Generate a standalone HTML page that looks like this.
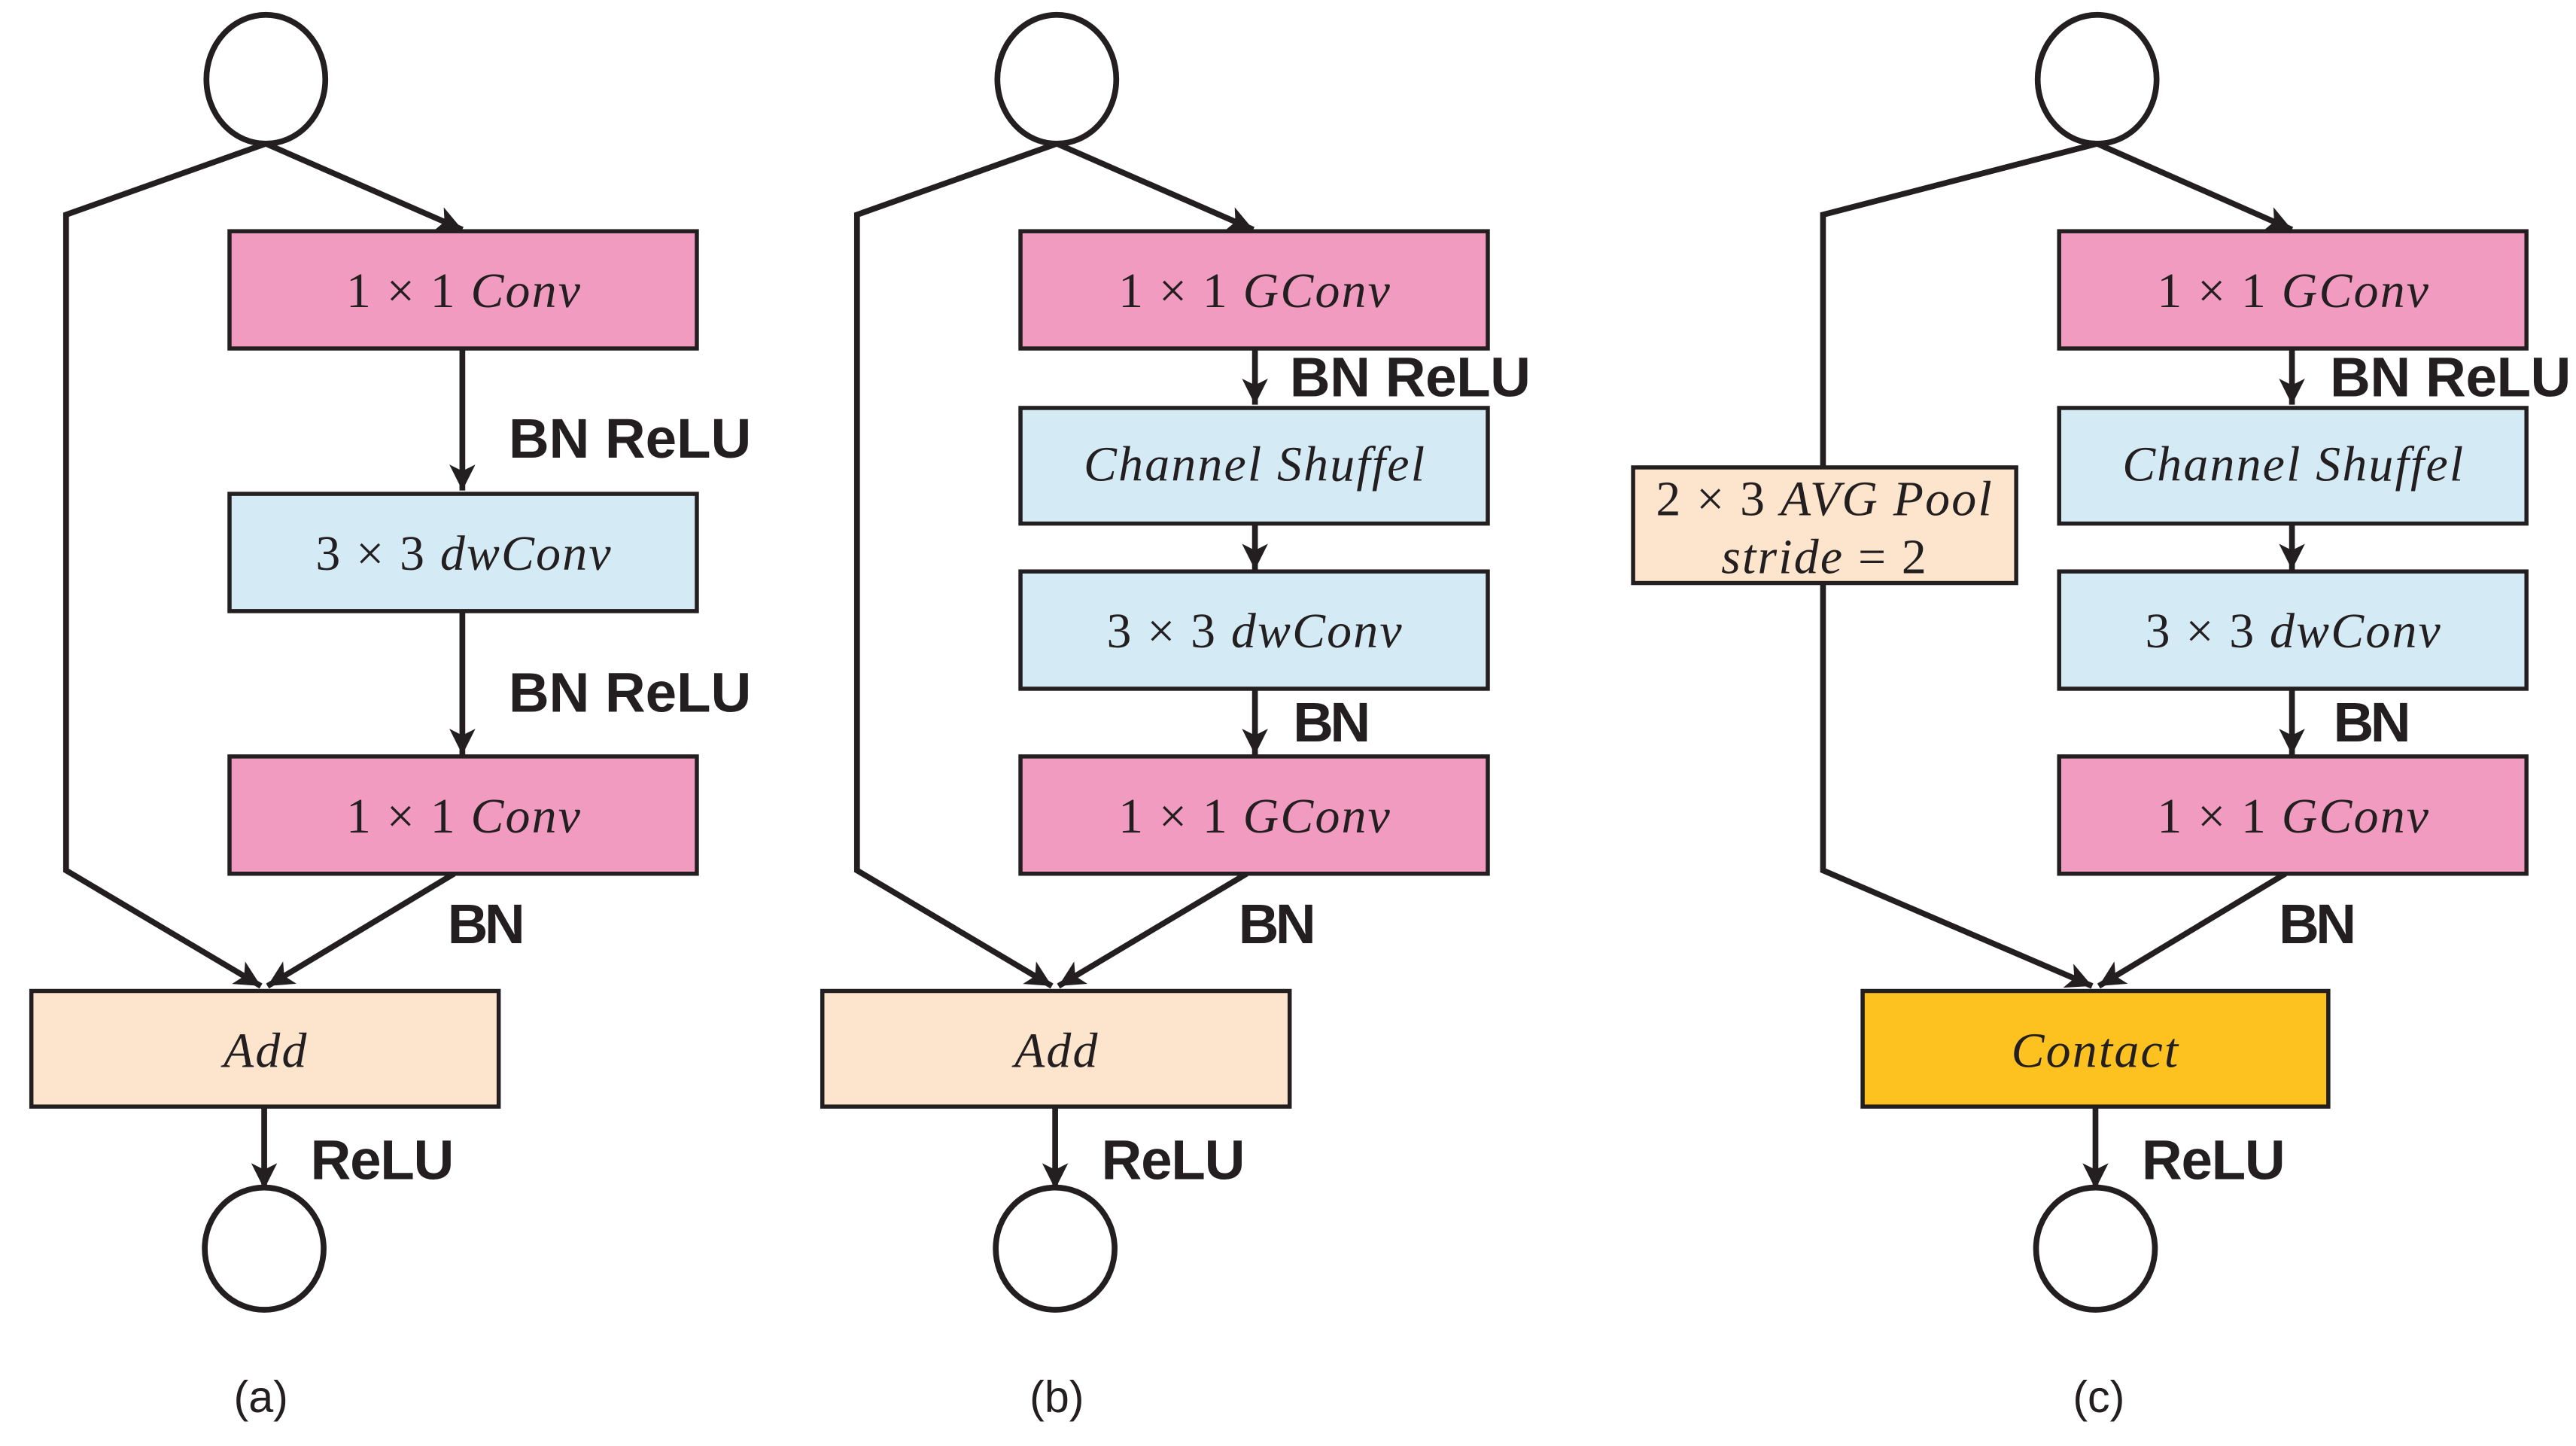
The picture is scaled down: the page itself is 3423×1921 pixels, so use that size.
<!DOCTYPE html>
<html><head><meta charset="utf-8"><style>
html,body{margin:0;padding:0;background:#fff}
svg{display:block}
.m{font-family:"Liberation Serif",serif;font-size:30px;fill:#231f20;letter-spacing:1px}
.i{font-style:italic}
.b{font-family:"Liberation Sans",sans-serif;font-weight:bold;font-size:34px;fill:#231f20}
.c{font-family:"Liberation Sans",sans-serif;font-size:27px;fill:#231f20}
</style></head><body>
<svg width="3423" height="1921" viewBox="0 0 1560 875.5" preserveAspectRatio="none" xmlns="http://www.w3.org/2000/svg">
<defs>
<marker id="a" viewBox="0 0 10 10" refX="10" refY="5" markerWidth="5.5" markerHeight="4.5" orient="auto" markerUnits="strokeWidth">
<path d="M0,0 L10,5 L0,10 L2.5,5 z" fill="#231f20"/></marker>
</defs>
<g stroke="#231f20" stroke-width="3.5" fill="none">
<ellipse cx="161" cy="48" rx="36" ry="39" fill="#fff"/>
<polyline points="161,87 40,130 40,527 158,597" marker-end="url(#a)"/>
<line x1="161" y1="87" x2="280" y2="139" marker-end="url(#a)"/>
<line x1="280" y1="211" x2="280" y2="297" marker-end="url(#a)"/>
<line x1="280" y1="370" x2="280" y2="457" marker-end="url(#a)"/>
<line x1="275" y1="529" x2="162" y2="597" marker-end="url(#a)"/>
<line x1="160" y1="670" x2="160" y2="720" marker-end="url(#a)"/>
<ellipse cx="160" cy="756" rx="36" ry="37" fill="#fff"/>
<ellipse cx="640" cy="48" rx="36" ry="39" fill="#fff"/>
<polyline points="640,87 519,130 519,527 637,597" marker-end="url(#a)"/>
<line x1="640" y1="87" x2="759" y2="139" marker-end="url(#a)"/>
<line x1="760" y1="211" x2="760" y2="245" marker-end="url(#a)"/>
<line x1="760" y1="317" x2="760" y2="345" marker-end="url(#a)"/>
<line x1="760" y1="417" x2="760" y2="457" marker-end="url(#a)"/>
<line x1="755" y1="529" x2="641" y2="597" marker-end="url(#a)"/>
<line x1="639" y1="670" x2="639" y2="720" marker-end="url(#a)"/>
<ellipse cx="639" cy="756" rx="36" ry="37" fill="#fff"/>
<ellipse cx="1270" cy="48" rx="36" ry="39" fill="#fff"/>
<polyline points="1270,87 1104,130 1104,283"/>
<polyline points="1104,353 1104,527 1267,597" marker-end="url(#a)"/>
<line x1="1270" y1="87" x2="1388" y2="139" marker-end="url(#a)"/>
<line x1="1388" y1="211" x2="1388" y2="245" marker-end="url(#a)"/>
<line x1="1388" y1="317" x2="1388" y2="345" marker-end="url(#a)"/>
<line x1="1388" y1="417" x2="1388" y2="457" marker-end="url(#a)"/>
<line x1="1384" y1="529" x2="1271" y2="597" marker-end="url(#a)"/>
<line x1="1269" y1="670" x2="1269" y2="720" marker-end="url(#a)"/>
<ellipse cx="1269" cy="756" rx="36" ry="37" fill="#fff"/>
</g>
<g stroke="#231f20" stroke-width="2.5">
<rect x="139" y="140" width="283" height="71" fill="#f19bc1"/>
<rect x="139" y="299" width="283" height="71" fill="#d4ebf5"/>
<rect x="139" y="458" width="283" height="71" fill="#f19bc1"/>
<rect x="19" y="600" width="283" height="70" fill="#fce5cc"/>
<rect x="618" y="140" width="283" height="71" fill="#f19bc1"/>
<rect x="618" y="247" width="283" height="70" fill="#d4ebf5"/>
<rect x="618" y="346" width="283" height="71" fill="#d4ebf5"/>
<rect x="618" y="458" width="283" height="71" fill="#f19bc1"/>
<rect x="498" y="600" width="283" height="70" fill="#fce5cc"/>
<rect x="989" y="283" width="232" height="70" fill="#fce5cc"/>
<rect x="1247" y="140" width="283" height="71" fill="#f19bc1"/>
<rect x="1247" y="247" width="283" height="70" fill="#d4ebf5"/>
<rect x="1247" y="346" width="283" height="71" fill="#d4ebf5"/>
<rect x="1247" y="458" width="283" height="71" fill="#f19bc1"/>
<rect x="1128" y="600" width="282" height="70" fill="#fdc220"/>
</g>
<g class="m" text-anchor="middle">
<text x="281" y="186">1 × 1 <tspan class="i">Conv</tspan></text>
<text x="281" y="345">3 × 3 <tspan class="i">dwConv</tspan></text>
<text x="281" y="504">1 × 1 <tspan class="i">Conv</tspan></text>
<text x="161" y="646" class="m i">Add</text>
<text x="760" y="186">1 × 1 <tspan class="i">GConv</tspan></text>
<text x="760" y="291" class="m i">Channel Shuffel</text>
<text x="760" y="392">3 × 3 <tspan class="i">dwConv</tspan></text>
<text x="760" y="504">1 × 1 <tspan class="i">GConv</tspan></text>
<text x="640" y="646" class="m i">Add</text>
<text x="1105" y="312">2 × 3 <tspan class="i">AVG Pool</tspan></text>
<text x="1105" y="347"><tspan class="i">stride</tspan> = 2</text>
<text x="1389" y="186">1 × 1 <tspan class="i">GConv</tspan></text>
<text x="1389" y="291" class="m i">Channel Shuffel</text>
<text x="1389" y="392">3 × 3 <tspan class="i">dwConv</tspan></text>
<text x="1389" y="504">1 × 1 <tspan class="i">GConv</tspan></text>
<text x="1269" y="646" class="m i">Contact</text>
</g>
<g class="b">
<text x="308" y="277" textLength="147">BN ReLU</text>
<text x="308" y="431" textLength="147">BN ReLU</text>
<text x="271" y="571" textLength="47">BN</text>
<text x="188" y="714" textLength="87">ReLU</text>
<text x="781" y="240" textLength="146">BN ReLU</text>
<text x="783" y="449" textLength="47">BN</text>
<text x="750" y="571" textLength="47">BN</text>
<text x="667" y="714" textLength="87">ReLU</text>
<text x="1411" y="240" textLength="146">BN ReLU</text>
<text x="1413" y="449" textLength="47">BN</text>
<text x="1380" y="571" textLength="47">BN</text>
<text x="1297" y="714" textLength="87">ReLU</text>
</g>
<g class="c" text-anchor="middle">
<text x="158" y="855">(a)</text>
<text x="640" y="855">(b)</text>
<text x="1271" y="855">(c)</text>
</g>
</svg>
</body></html>
